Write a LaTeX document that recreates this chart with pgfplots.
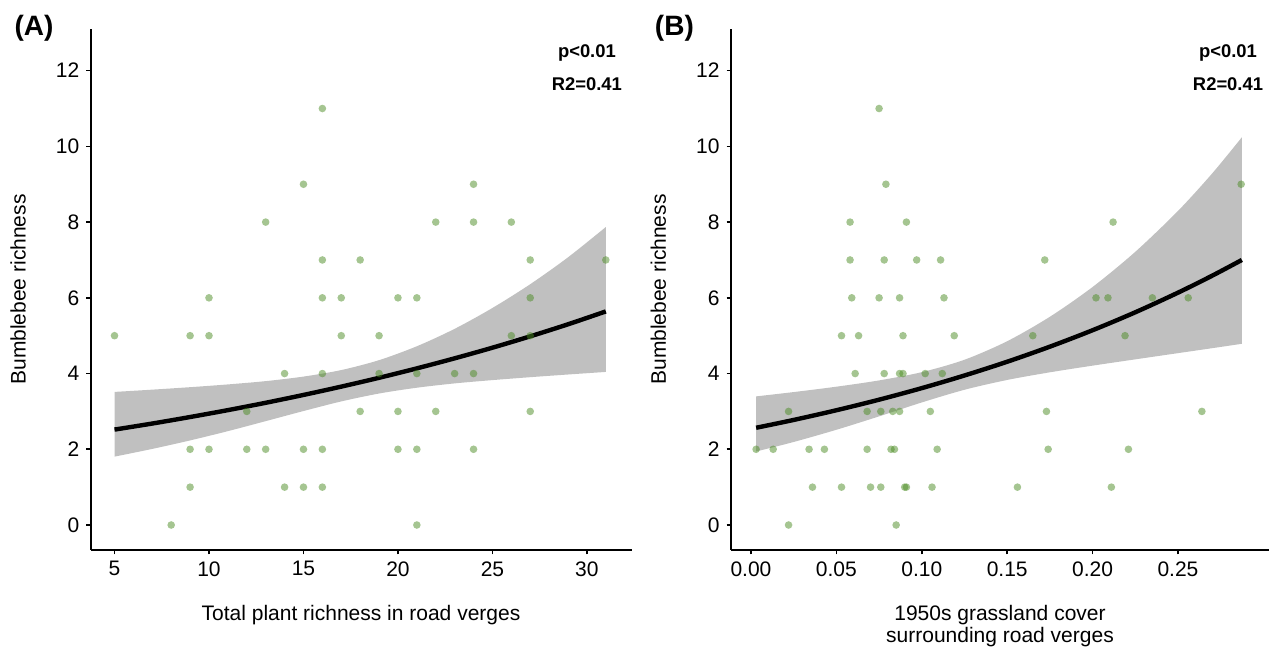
\documentclass[border=0pt]{standalone}
\usepackage{fontspec}
\setmainfont{Liberation Sans}
\usepackage{pgfplots}
\usepackage{pgfplotstable}
\pgfplotsset{compat=1.18}
\usepgfplotslibrary{fillbetween}

\definecolor{ptgreen}{RGB}{75,140,35}
\definecolor{bandgray}{RGB}{192,192,192}

% fitted curve with 95% band
\pgfplotstableread{
x   y     up    lo
5   2.520 3.515 1.806
7   2.680 3.575 2.010
9   2.852 3.640 2.234
11  3.034 3.713 2.479
13  3.228 3.800 2.743
15  3.435 3.920 3.010
17  3.655 4.092 3.264
19  3.888 4.354 3.473
21  4.137 4.721 3.626
23  4.402 5.181 3.740
25  4.683 5.732 3.827
27  4.983 6.360 3.904
29  5.301 7.070 3.975
31  5.641 7.870 4.043
}\fitA

\pgfplotstableread{
x      y     up     lo
0.003  2.568 3.397  1.941
0.025  2.775 3.511  2.193
0.050  3.031 3.653  2.515
0.075  3.310 3.819  2.869
0.100  3.615 4.037  3.237
0.125  3.949 4.365  3.572
0.150  4.312 4.854  3.831
0.175  4.710 5.500  4.033
0.200  5.144 6.286  4.209
0.225  5.618 7.215  4.375
0.250  6.136 8.295  4.539
0.270  6.584 9.284  4.670
0.2874 7.000 10.240 4.786
}\fitB

\pgfplotstableread{
x  y
16 11
15 9
24 9
13 8
22 8
24 8
26 8
16 7
18 7
27 7
31 7
10 6
16 6
17 6
20 6
21 6
27 6
5  5
9  5
10 5
17 5
19 5
26 5
27 5
14 4
16 4
19 4
21 4
23 4
24 4
12 3
18 3
20 3
22 3
27 3
9  2
10 2
12 2
13 2
15 2
16 2
20 2
21 2
24 2
9  1
14 1
15 1
16 1
8  0
21 0
}\ptsA

\pgfplotstableread{
x     y
0.075 11
0.079 9
0.287 9
0.058 8
0.091 8
0.212 8
0.058 7
0.078 7
0.097 7
0.111 7
0.172 7
0.059 6
0.075 6
0.087 6
0.113 6
0.202 6
0.209 6
0.235 6
0.256 6
0.053 5
0.063 5
0.089 5
0.119 5
0.165 5
0.219 5
0.061 4
0.078 4
0.087 4
0.089 4
0.102 4
0.112 4
0.022 3
0.068 3
0.076 3
0.083 3
0.087 3
0.105 3
0.173 3
0.264 3
0.003 2
0.013 2
0.034 2
0.043 2
0.068 2
0.082 2
0.084 2
0.109 2
0.174 2
0.221 2
0.036 1
0.053 1
0.070 1
0.076 1
0.090 1
0.091 1
0.106 1
0.156 1
0.211 1
0.022 0
0.085 0
}\ptsB

\pgfplotsset{
  verge/.style={
    scale only axis,
    anchor=south west,
    height=260.5pt,
    ymin=-0.66, ymax=13.1,
    ytick={0,2,4,6,8,10,12},
    axis x line*=bottom,
    axis y line*=left,
    axis line style={line width=0.85pt, -},
    tick style={line width=0.85pt, black},
    tick align=outside,
    major tick length=2.2pt,
    tick label style={font=\fontsize{10.5}{12}\selectfont},
    /pgf/number format/assume math mode=true,
    clip=false,
  },
  pts/.style={only marks, mark=*, mark size=1.9pt, color=ptgreen,
    mark options={draw opacity=0, fill=ptgreen, fill opacity=0.5}},
  fitline/.style={black, line width=2.2pt, smooth},
}

\begin{document}
\begin{tikzpicture}
\begin{axis}[verge, at={(45.35pt,49pt)}, width=270.5pt,
  xmin=3.74, xmax=32.37, xtick={5,10,15,20,25,30}]
\addplot[name path=upA, draw=none, smooth] table[x=x, y=up] {\fitA};
\addplot[name path=loA, draw=none, smooth] table[x=x, y=lo] {\fitA};
\addplot[bandgray, draw=none] fill between[of=upA and loA];
\addplot[fitline] table[x=x, y=y] {\fitA};
\addplot[pts] table[x=x, y=y] {\ptsA};
\node[anchor=base, font=\bfseries\fontsize{9.2}{11}\selectfont] at (axis cs:30,12.36) {p<0.01};
\node[anchor=base, font=\bfseries\fontsize{9.2}{11}\selectfont] at (axis cs:30,11.47) {R2=0.41};
\end{axis}

\begin{axis}[verge, at={(365.5pt,49pt)}, width=269pt,
  xmin=-0.0117, xmax=0.3033, xtick={0,0.05,0.1,0.15,0.2,0.25},
  xticklabel style={/pgf/number format/.cd, fixed, fixed zerofill, precision=2}]
\addplot[name path=upB, draw=none, smooth] table[x=x, y=up] {\fitB};
\addplot[name path=loB, draw=none, smooth] table[x=x, y=lo] {\fitB};
\addplot[bandgray, draw=none] fill between[of=upB and loB];
\addplot[fitline] table[x=x, y=y] {\fitB};
\addplot[pts] table[x=x, y=y] {\ptsB};
\node[anchor=base, font=\bfseries\fontsize{9.2}{11}\selectfont] at (axis cs:0.2793,12.36) {p<0.01};
\node[anchor=base, font=\bfseries\fontsize{9.2}{11}\selectfont] at (axis cs:0.2793,11.47) {R2=0.41};
\end{axis}

% panel letters and axis titles
\node[anchor=base, font=\bfseries\fontsize{14}{16}\selectfont] at (17pt,306pt) {(A)};
\node[anchor=base, font=\bfseries\fontsize{14}{16}\selectfont] at (337.2pt,306pt) {(B)};
\node[rotate=90, font=\fontsize{10.5}{12}\selectfont] at (9pt,179.25pt) {Bumblebee richness};
\node[rotate=90, font=\fontsize{10.5}{12}\selectfont] at (329.2pt,179.25pt) {Bumblebee richness};
\node[anchor=base, font=\fontsize{10.5}{12}\selectfont] at (180.5pt,13.5pt) {Total plant richness in road verges};
\node[anchor=base, font=\fontsize{10.5}{12}\selectfont] at (500pt,13.5pt) {1950s grassland cover};
\node[anchor=base, font=\fontsize{10.5}{12}\selectfont] at (500pt,2.5pt) {surrounding road verges};

\pgfresetboundingbox
\path[use as bounding box] (0pt,0pt) rectangle (634.5pt,324pt);
\end{tikzpicture}
\end{document}
